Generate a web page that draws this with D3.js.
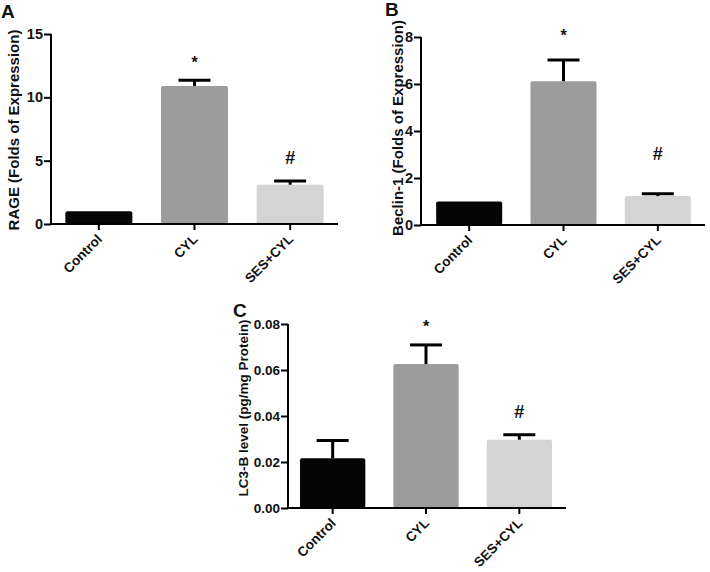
<!DOCTYPE html>
<html>
<head>
<meta charset="utf-8">
<script src="https://cdn.jsdelivr.net/npm/d3@7"></script>
<style>
	body { margin: 0; background: #fff; }
	svg text { font-family: "Liberation Sans", Arial, sans-serif; fill: #111; }
</style>
</head>
<body>
<svg id="chart" width="710" height="572"></svg>
<script>
'use strict'
var groups = ["Control", "CYL", "SES+CYL"];
var colors = ["#050505", "#9c9c9c", "#d4d4d4"];
var marks = ["", "*", "#"];

// panel A: RAGE
var rageMean = [1.0, 10.9, 3.1];
var rageErr = [0, 0.45, 0.3];
var rageMark = [0, 13.2, 5.2];
var rageTicks = [0, 5, 10, 15];

// panel B: Beclin-1
var beclinMean = [1.0, 6.12, 1.23];
var beclinErr = [0, 0.9, 0.1];
var beclinMark = [0, 8.3, 3.05];
var beclinTicks = [0, 2, 4, 6, 8];

// panel C: LC3-B
var lc3Mean = [0.0216, 0.0626, 0.0297];
var lc3Err = [0.0078, 0.0083, 0.0022];
var lc3Mark = [0, 0.0815, 0.042];
var lc3Ticks = [0, 0.02, 0.04, 0.06, 0.08];

var svg = d3.select("#chart");

function drawPanel(p){
	var g = svg.append("g");
	var y = d3.scaleLinear().domain(p.domain).range([p.y0, p.y1]);
	var x = d3.scaleBand().domain(groups).range([p.b0, p.b1]).paddingInner(0.3).paddingOuter(0.15);
	var mid = function(i){ return x(groups[i]) + x.bandwidth() / 2; };

	// bars
	g.selectAll("rect.bar")
		.data(p.mean)
		.enter().append("rect")
		.attr("class", "bar")
		.attr("x", function(d, i){ return x(groups[i]); })
		.attr("width", x.bandwidth())
		.attr("y", function(d){ return y(d); })
		.attr("height", function(d){ return y(0) - y(d); })
		.attr("rx", 2)
		.style("fill", function(d, i){ return colors[i]; });

	// upper error bars only
	var err = p.mean.map(function(m, i){ return {m: m, e: p.err[i], i: i}; })
		.filter(function(d){ return d.e > 0; });
	g.selectAll("line.err")
		.data(err)
		.enter().append("line")
		.attr("x1", function(d){ return mid(d.i); })
		.attr("x2", function(d){ return mid(d.i); })
		.attr("y1", function(d){ return y(d.m); })
		.attr("y2", function(d){ return y(d.m + d.e); })
		.style("stroke", "#000").style("stroke-width", 3);
	g.selectAll("line.cap")
		.data(err)
		.enter().append("line")
		.attr("x1", function(d){ return mid(d.i) - 16; })
		.attr("x2", function(d){ return mid(d.i) + 16; })
		.attr("y1", function(d){ return y(d.m + d.e); })
		.attr("y2", function(d){ return y(d.m + d.e); })
		.style("stroke", "#000").style("stroke-width", 3);

	// significance marks
	g.selectAll("text.mark")
		.data(marks)
		.enter().append("text")
		.attr("x", function(d, i){ return mid(i); })
		.attr("y", function(d, i){ return y(p.mark[i]); })
		.attr("dy", function(d){ return d === "*" ? "0.7em" : "0.35em"; })
		.attr("text-anchor", "middle")
		.style("font-size", function(d){ return d === "*" ? "16px" : "18px"; })
		.style("font-weight", "bold")
		.text(function(d){ return d; });

	// y axis
	var yAxis = d3.axisLeft(y).tickValues(p.ticks).tickSize(7).tickPadding(1)
		.tickFormat(p.fmt);
	var ya = g.append("g").attr("transform", "translate(" + p.ax + ",0)").call(yAxis);
	ya.select(".domain").attr("d", "M0," + p.y1 + "V" + p.y0).style("stroke-width", 2);
	ya.selectAll(".tick line").style("stroke-width", 2);
	ya.selectAll(".tick text").style("font-size", p.tickFont + "px").style("font-weight", "bold")
		.style("font-family", "Liberation Sans, Arial, sans-serif").style("fill", "#111");

	// x axis
	var xAxis = d3.axisBottom(x).tickSize(6).tickFormat("");
	var xa = g.append("g").attr("transform", "translate(0," + p.y0 + ")").call(xAxis);
	xa.select(".domain").attr("d", "M" + p.ax + ",0H" + p.xEnd).style("stroke-width", 2);
	xa.selectAll(".tick line").style("stroke-width", 2);
	g.selectAll("text.xl")
		.data(groups)
		.enter().append("text")
		.attr("text-anchor", "end")
		.attr("transform", function(d, i){
			return "translate(" + (mid(i) + 4) + "," + (p.y0 + 16) + ") rotate(-45)";
		})
		.style("font-size", p.labelFont + "px").style("font-weight", "bold")
		.text(function(d){ return d; });

	// axis title
	g.append("text")
		.attr("transform", "translate(" + p.titleX + "," + p.titleY + ") rotate(-90)")
		.attr("text-anchor", "middle")
		.style("font-size", p.titleFont + "px").style("font-weight", "bold")
		.text(p.title);

	// panel letter
	g.append("text")
		.attr("x", p.letterX).attr("y", p.letterY)
		.style("font-size", "19px").style("font-weight", "bold")
		.text(p.letter);
}

drawPanel({
	letter: "A", letterX: 1, letterY: 18,
	mean: rageMean, err: rageErr, mark: rageMark, ticks: rageTicks, domain: [0, 15],
	fmt: d3.format("d"), title: "RAGE (Folds of Expression)",
	ax: 51, xEnd: 338, b0: 51, b1: 338, y0: 224, y1: 34,
	titleX: 19, titleY: 130, titleFont: 15, tickFont: 14.5, labelFont: 13.5
});
drawPanel({
	letter: "B", letterX: 385, letterY: 16,
	mean: beclinMean, err: beclinErr, mark: beclinMark, ticks: beclinTicks, domain: [0, 8],
	fmt: d3.format("d"), title: "Beclin-1 (Folds of Expression)",
	ax: 421, xEnd: 705, b0: 422, b1: 705, y0: 225, y1: 37,
	titleX: 403, titleY: 128, titleFont: 15, tickFont: 14.5, labelFont: 13.5
});
drawPanel({
	letter: "C", letterX: 233, letterY: 317,
	mean: lc3Mean, err: lc3Err, mark: lc3Mark, ticks: lc3Ticks, domain: [0, 0.08],
	fmt: d3.format(".2f"), title: "LC3-B level (pg/mg Protein)",
	ax: 288, xEnd: 566, b0: 286, b1: 566, y0: 508, y1: 324,
	titleX: 248, titleY: 408, titleFont: 13.5, tickFont: 13.5, labelFont: 13.5
});
</script>
</body>
</html>
